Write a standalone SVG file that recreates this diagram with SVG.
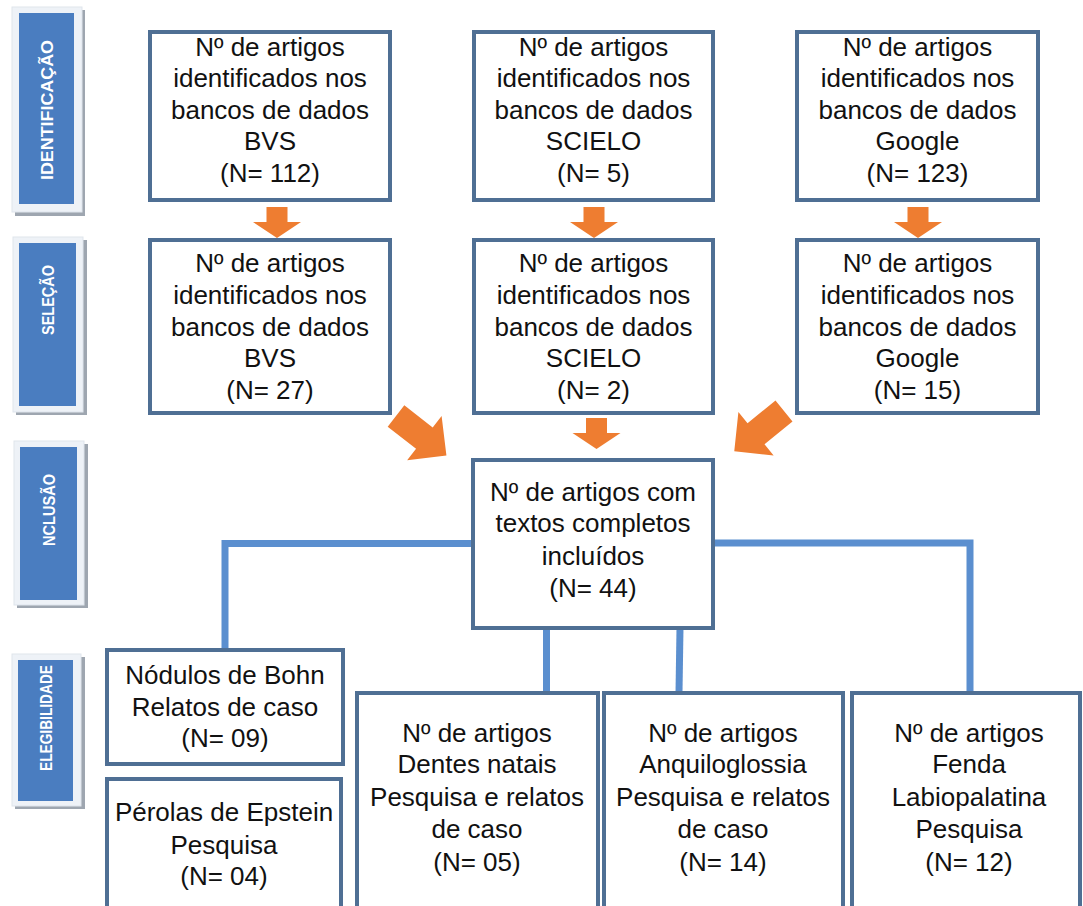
<svg xmlns="http://www.w3.org/2000/svg" width="1083" height="906" viewBox="0 0 1083 906">
<defs>
<style>
.box{fill:#ffffff;stroke:#4f6f94;stroke-width:4}
.t{font-family:"Liberation Sans",Arial,sans-serif;font-size:26px;fill:#111;text-anchor:middle}
.side-sh{fill:#9ea6b0}
.side-fr{fill:#eef2f7;stroke:#dfe5ec;stroke-width:1}
.side-bl{fill:#4a7dc0}
.st{font-family:"Liberation Sans",Arial,sans-serif;font-size:17px;font-weight:bold;fill:#ffffff;text-anchor:middle}
.arr{fill:#ee7d31}
.con{fill:none;stroke:#5b8fcf;stroke-width:7;stroke-linejoin:miter}
</style>
<polygon id="sarrow" points="-10.5,0 10.5,0 10.5,15 24,15 0,31 -24,15 -10.5,15"/>
<polygon id="darrow" points="0,-13.5 36,-13.5 36,-28 64,0 36,28 36,13.5 0,13.5"/>
</defs>
<rect width="1083" height="906" fill="#ffffff"/>

<g id="side-identificacao">
<rect class="side-sh" x="15" y="10" width="70" height="206"/>
<rect class="side-fr" x="12" y="7" width="70" height="205"/>
<rect class="side-bl" x="19" y="13" width="55" height="191"/>
<text class="st" transform="translate(52.5,110) rotate(-90)" textLength="140" lengthAdjust="spacingAndGlyphs">IDENTIFICAÇÃO</text>
</g>
<g id="side-selecao">
<rect class="side-sh" x="16" y="240" width="71" height="175"/>
<rect class="side-fr" x="13" y="237" width="70" height="175"/>
<rect class="side-bl" x="19" y="243" width="57" height="163"/>
<text class="st" transform="translate(53.5,300) rotate(-90)" textLength="70" lengthAdjust="spacingAndGlyphs">SELEÇÃO</text>
</g>
<g id="side-inclusao">
<rect class="side-sh" x="17" y="444" width="71" height="164"/>
<rect class="side-fr" x="14" y="441" width="70" height="164"/>
<rect class="side-bl" x="20" y="447" width="57" height="153"/>
<text class="st" transform="translate(54.5,510) rotate(-90)" textLength="72" lengthAdjust="spacingAndGlyphs">NCLUSÃO</text>
</g>
<g id="side-elegibilidade">
<rect class="side-sh" x="15" y="657" width="70" height="152"/>
<rect class="side-fr" x="12" y="654" width="69" height="152"/>
<rect class="side-bl" x="18" y="660" width="55" height="141"/>
<text class="st" transform="translate(51.5,718) rotate(-90)" textLength="106" lengthAdjust="spacingAndGlyphs">ELEGIBILIDADE</text>
</g>

<g id="connectors">
<polyline class="con" points="225,650 225,543.5 473,543.5"/>
<polyline class="con" points="713,543 970,543 970,692"/>
<line class="con" x1="546.5" y1="628" x2="546.5" y2="692"/>
<line class="con" x1="680" y1="628" x2="679" y2="692"/>
<use href="#sarrow" class="arr" x="277" y="207"/>
<use href="#sarrow" class="arr" x="594" y="207"/>
<use href="#sarrow" class="arr" x="918" y="207"/>
<use href="#sarrow" class="arr" x="596.5" y="418"/>
<use href="#darrow" class="arr" transform="translate(396,416) rotate(38)"/>
<use href="#darrow" class="arr" transform="translate(784,411) rotate(141)"/>
</g>

<g id="bvs-id">
<rect class="box" x="150" y="32" width="240" height="168"/>
<text class="t"><tspan x="270" y="56">Nº de artigos</tspan><tspan x="270" y="87">identificados nos</tspan><tspan x="270" y="119">bancos de dados</tspan><tspan x="270" y="150">BVS</tspan><tspan x="270" y="182">(N= 112)</tspan></text>
</g>
<g id="scielo-id">
<rect class="box" x="474" y="32" width="239" height="168"/>
<text class="t"><tspan x="593.5" y="56">Nº de artigos</tspan><tspan x="593.5" y="87">identificados nos</tspan><tspan x="593.5" y="119">bancos de dados</tspan><tspan x="593.5" y="150">SCIELO</tspan><tspan x="593.5" y="182">(N= 5)</tspan></text>
</g>
<g id="google-id">
<rect class="box" x="797" y="32" width="241" height="168"/>
<text class="t"><tspan x="917.5" y="56">Nº de artigos</tspan><tspan x="917.5" y="87">identificados nos</tspan><tspan x="917.5" y="119">bancos de dados</tspan><tspan x="917.5" y="150">Google</tspan><tspan x="917.5" y="182">(N= 123)</tspan></text>
</g>

<g id="bvs-sel">
<rect class="box" x="150" y="240" width="240" height="173"/>
<text class="t"><tspan x="270" y="272">Nº de artigos</tspan><tspan x="270" y="304">identificados nos</tspan><tspan x="270" y="336">bancos de dados</tspan><tspan x="270" y="367">BVS</tspan><tspan x="270" y="399">(N= 27)</tspan></text>
</g>
<g id="scielo-sel">
<rect class="box" x="474" y="240" width="239" height="173"/>
<text class="t"><tspan x="593.5" y="272">Nº de artigos</tspan><tspan x="593.5" y="304">identificados nos</tspan><tspan x="593.5" y="336">bancos de dados</tspan><tspan x="593.5" y="367">SCIELO</tspan><tspan x="593.5" y="399">(N= 2)</tspan></text>
</g>
<g id="google-sel">
<rect class="box" x="797" y="240" width="241" height="173"/>
<text class="t"><tspan x="917.5" y="272">Nº de artigos</tspan><tspan x="917.5" y="304">identificados nos</tspan><tspan x="917.5" y="336">bancos de dados</tspan><tspan x="917.5" y="367">Google</tspan><tspan x="917.5" y="399">(N= 15)</tspan></text>
</g>

<g id="incluidos">
<rect class="box" x="473" y="460" width="240" height="168"/>
<text class="t"><tspan x="593" y="501">Nº de artigos com</tspan><tspan x="593" y="532">textos completos</tspan><tspan x="593" y="565">incluídos</tspan><tspan x="593" y="597">(N= 44)</tspan></text>
</g>

<g id="nodulos">
<rect class="box" x="107" y="650" width="236" height="114"/>
<text class="t"><tspan x="225" y="684">Nódulos de Bohn</tspan><tspan x="225" y="716">Relatos de caso</tspan><tspan x="225" y="747">(N= 09)</tspan></text>
</g>
<g id="perolas">
<rect class="box" x="107" y="779" width="234" height="140"/>
<text class="t"><tspan x="224" y="821">Pérolas de Epstein</tspan><tspan x="224" y="854">Pesquisa</tspan><tspan x="224" y="885">(N= 04)</tspan></text>
</g>
<g id="dentes">
<rect class="box" x="357" y="693" width="241" height="226"/>
<text class="t"><tspan x="477" y="742">Nº de artigos</tspan><tspan x="477" y="773">Dentes natais</tspan><tspan x="477" y="806">Pesquisa e relatos</tspan><tspan x="477" y="838">de caso</tspan><tspan x="477" y="871">(N= 05)</tspan></text>
</g>
<g id="anquiloglossia">
<rect class="box" x="604" y="693" width="239" height="226"/>
<text class="t"><tspan x="723" y="742">Nº de artigos</tspan><tspan x="723" y="773">Anquiloglossia</tspan><tspan x="723" y="806">Pesquisa e relatos</tspan><tspan x="723" y="838">de caso</tspan><tspan x="723" y="871">(N= 14)</tspan></text>
</g>
<g id="fenda">
<rect class="box" x="852" y="693" width="228" height="226"/>
<text class="t"><tspan x="969" y="742">Nº de artigos</tspan><tspan x="969" y="773">Fenda</tspan><tspan x="969" y="806">Labiopalatina</tspan><tspan x="969" y="838">Pesquisa</tspan><tspan x="969" y="871">(N= 12)</tspan></text>
</g>
</svg>
